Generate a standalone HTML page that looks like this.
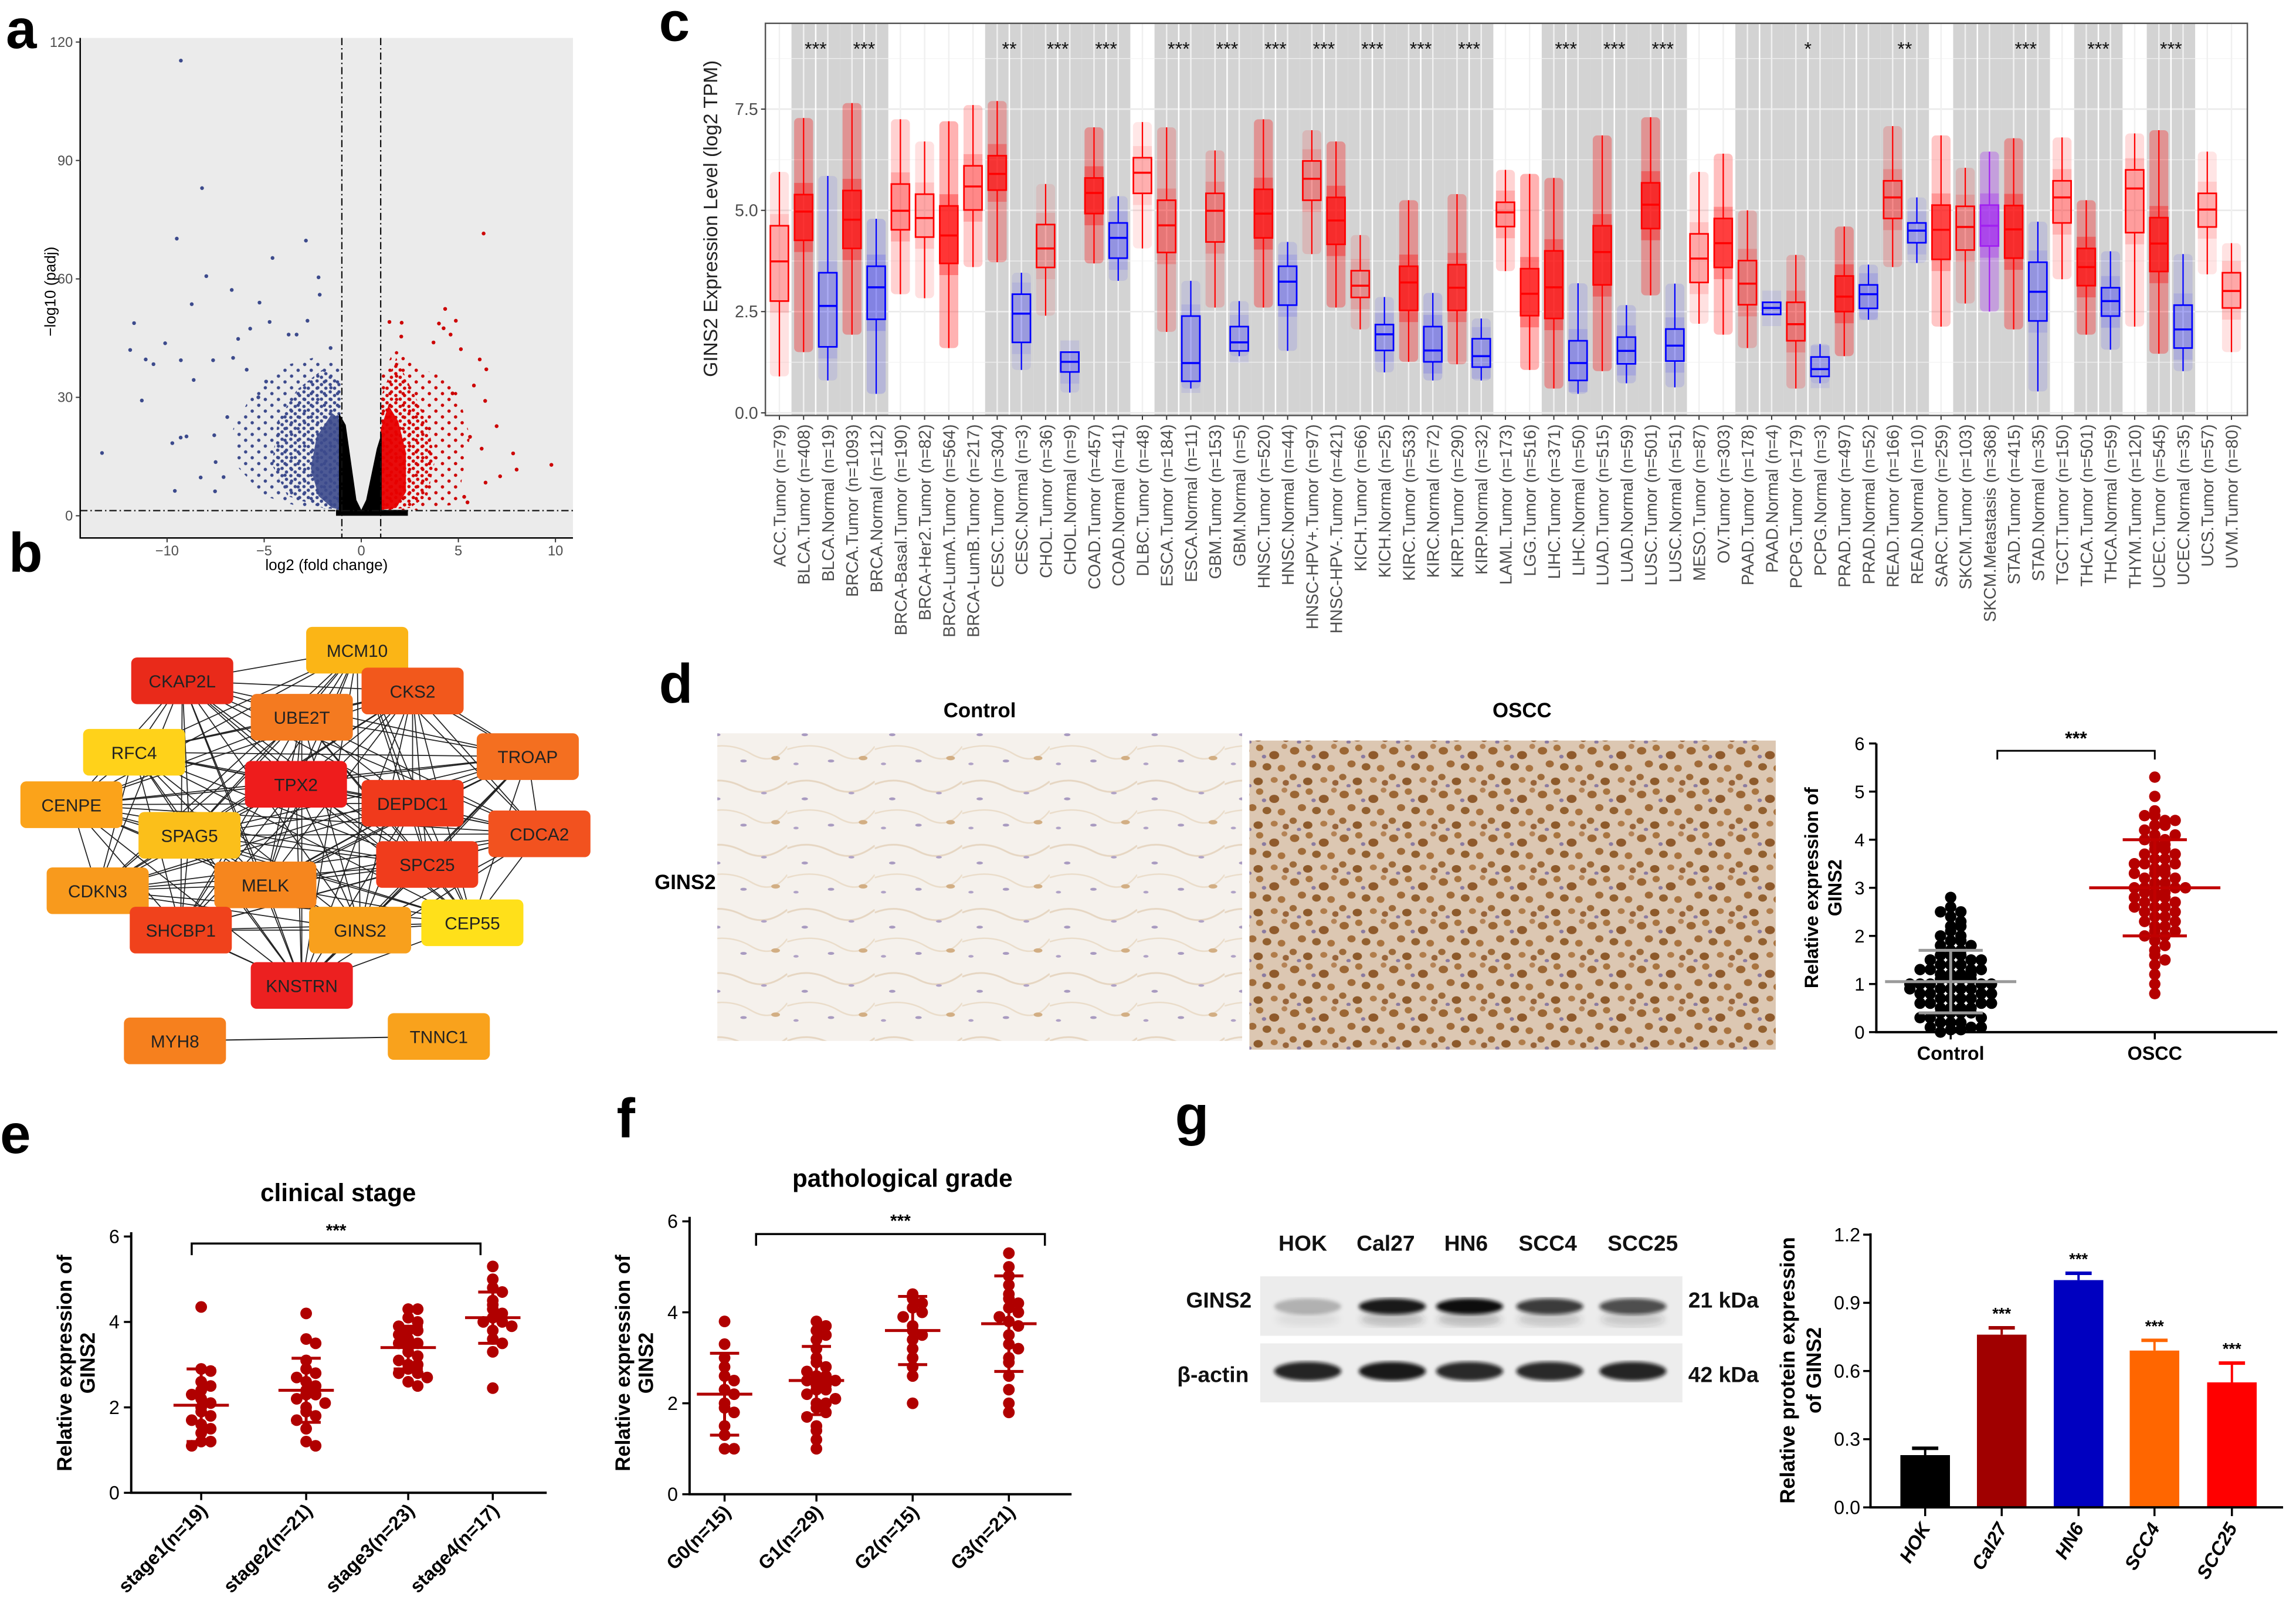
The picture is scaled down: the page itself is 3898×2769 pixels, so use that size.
<!DOCTYPE html>
<html><head><meta charset="utf-8">
<style>
html,body{margin:0;padding:0;background:#fff;}
svg{display:block;}
text{font-family:"Liberation Sans",Arial,sans-serif;}
</style></head>
<body>
<svg id="fig" xmlns="http://www.w3.org/2000/svg" width="3898" height="2769" viewBox="0 0 1568 1114" preserveAspectRatio="none">
<defs>
<pattern id="osccTex" width="34" height="30" patternUnits="userSpaceOnUse">
<rect width="34" height="30" fill="#dcc7b2"/>
<ellipse cx="4" cy="5" rx="3.2" ry="2.6" fill="#9b6634"/><ellipse cx="14" cy="3" rx="2.5" ry="2.2" fill="#a8743f"/>
<ellipse cx="24" cy="8" rx="3.4" ry="2.8" fill="#8f5a2c"/><ellipse cx="31" cy="2" rx="2" ry="1.8" fill="#b48357"/>
<ellipse cx="9" cy="14" rx="2.8" ry="2.4" fill="#a06b39"/><ellipse cx="19" cy="16" rx="3" ry="2.5" fill="#92602f"/>
<ellipse cx="29" cy="17" rx="2.6" ry="2.3" fill="#a9733f"/><ellipse cx="3" cy="23" rx="2.5" ry="2.2" fill="#9d6a39"/>
<ellipse cx="13" cy="26" rx="3.2" ry="2.6" fill="#8d5a2b"/><ellipse cx="24" cy="25" rx="2.4" ry="2" fill="#b07c4a"/>
<ellipse cx="32" cy="27" rx="2.2" ry="2" fill="#98643a"/><ellipse cx="17" cy="9" rx="1.5" ry="1.3" fill="#8a7aa0"/>
<ellipse cx="7" cy="29" rx="1.5" ry="1.2" fill="#8a7aa0"/>
</pattern>
<pattern id="ctrlTex" width="60" height="44" patternUnits="userSpaceOnUse">
<rect width="60" height="44" fill="#f5f1ec"/>
<path d="M0 10 Q15 4 30 12 T60 8" stroke="#e6d6c2" stroke-width="1.2" fill="none"/>
<path d="M0 30 Q20 24 35 33 T60 28" stroke="#eadcc9" stroke-width="1" fill="none"/>
<ellipse cx="12" cy="20" rx="2.2" ry="1" fill="#a89ac0"/><ellipse cx="44" cy="16" rx="2" ry="0.9" fill="#b0a2c6"/>
<ellipse cx="30" cy="38" rx="2.2" ry="1" fill="#a89ac0"/><ellipse cx="52" cy="36" rx="3" ry="1.5" fill="#d2ae83"/>
<ellipse cx="6" cy="40" rx="1.8" ry="0.9" fill="#b0a2c6"/>
</pattern>
<pattern id="blueDots" width="6" height="5" patternUnits="userSpaceOnUse">
<circle cx="1.5" cy="1.3" r="1.15" fill="#3c4a8c"/><circle cx="4.5" cy="3.8" r="1.15" fill="#3c4a8c"/>
</pattern>
<pattern id="blueDotsSparse" width="9" height="8" patternUnits="userSpaceOnUse">
<circle cx="2" cy="2" r="1.15" fill="#3c4a8c"/><circle cx="6.5" cy="6" r="1.15" fill="#3c4a8c"/>
</pattern>
<pattern id="redDots" width="6" height="5" patternUnits="userSpaceOnUse">
<circle cx="1.5" cy="1.3" r="1.15" fill="#d40000"/><circle cx="4.5" cy="3.8" r="1.15" fill="#d40000"/>
</pattern>
<pattern id="redDotsSparse" width="9" height="8" patternUnits="userSpaceOnUse">
<circle cx="2" cy="2" r="1.15" fill="#cc0000"/><circle cx="6.5" cy="6" r="1.15" fill="#cc0000"/>
</pattern>
<filter id="blur1"><feGaussianBlur stdDeviation="2.2"/></filter>
<filter id="blur2"><feGaussianBlur stdDeviation="1.3"/></filter>
</defs>
</svg>
<script>
// ---------------- DATA ----------------
const volcBlueX = [-9.29,-8.2,-9.5,-2.85,-4.57,-7.98,-2.2,-6.67,-2.14,-5.24,-8.73,-11.7,-4.72,-2.77,-5.72,-10.1,-11.9,-11.1,-10.7,-9.29,-7.63,-8.63,-11.3,-13.35,-9.73,-9.3,-9.0,-7.57,-7.5,-8.27,-7.09,-9.6,-7.53,-1.58,-3.74,-3.33,-6.34,-6.6,-5.9,-4.9,-6.9,-5.3];
const volcBlueY = [115.3,83,70.2,69.7,65.3,60.7,60.4,57.2,56,54,53.6,48.8,49.1,49.4,47.4,43.7,42,39.6,38.4,39.4,39.4,34.4,29.2,15.9,18.4,19.8,20.1,20.4,13.6,9.7,9.8,6.3,6.2,42.5,45.9,45.9,44.8,40,37,34,25,30];
const volcRedX = [6.3,4.32,4.87,1.45,2.08,4.0,4.24,4.6,2.06,3.72,5.13,6.1,6.44,7.82,9.79,8.0,6.38,6.97,7.15,6.4,5.3,5.47,5.8,6.2,5.6,4.7];
const volcRedY = [71.5,52.4,49.4,49.1,48.9,48.7,47.5,45.9,45.4,43.9,42.2,39.6,37.1,15.8,12.9,11.7,29.1,22.7,10,8.4,4.8,3.4,33,17,20,31];
const volcXTicks = [-10,-5,0,5,10];
const volcYTicks = [0,30,60,90,120];

const cLabels = ["ACC.Tumor (n=79)","BLCA.Tumor (n=408)","BLCA.Normal (n=19)","BRCA.Tumor (n=1093)","BRCA.Normal (n=112)","BRCA-Basal.Tumor (n=190)","BRCA-Her2.Tumor (n=82)","BRCA-LumA.Tumor (n=564)","BRCA-LumB.Tumor (n=217)","CESC.Tumor (n=304)","CESC.Normal (n=3)","CHOL.Tumor (n=36)","CHOL.Normal (n=9)","COAD.Tumor (n=457)","COAD.Normal (n=41)","DLBC.Tumor (n=48)","ESCA.Tumor (n=184)","ESCA.Normal (n=11)","GBM.Tumor (n=153)","GBM.Normal (n=5)","HNSC.Tumor (n=520)","HNSC.Normal (n=44)","HNSC-HPV+.Tumor (n=97)","HNSC-HPV-.Tumor (n=421)","KICH.Tumor (n=66)","KICH.Normal (n=25)","KIRC.Tumor (n=533)","KIRC.Normal (n=72)","KIRP.Tumor (n=290)","KIRP.Normal (n=32)","LAML.Tumor (n=173)","LGG.Tumor (n=516)","LIHC.Tumor (n=371)","LIHC.Normal (n=50)","LUAD.Tumor (n=515)","LUAD.Normal (n=59)","LUSC.Tumor (n=501)","LUSC.Normal (n=51)","MESO.Tumor (n=87)","OV.Tumor (n=303)","PAAD.Tumor (n=178)","PAAD.Normal (n=4)","PCPG.Tumor (n=179)","PCPG.Normal (n=3)","PRAD.Tumor (n=497)","PRAD.Normal (n=52)","READ.Tumor (n=166)","READ.Normal (n=10)","SARC.Tumor (n=259)","SKCM.Tumor (n=103)","SKCM.Metastasis (n=368)","STAD.Tumor (n=415)","STAD.Normal (n=35)","TGCT.Tumor (n=150)","THCA.Tumor (n=501)","THCA.Normal (n=59)","THYM.Tumor (n=120)","UCEC.Tumor (n=545)","UCEC.Normal (n=35)","UCS.Tumor (n=57)","UVM.Tumor (n=80)"];
const cGroup = ["T","T","N","T","N","T","T","T","T","T","N","T","N","T","N","T","T","N","T","N","T","N","T","T","T","N","T","N","T","N","T","T","T","N","T","N","T","N","T","T","T","N","T","N","T","N","T","N","T","T","M","T","N","T","T","N","T","T","N","T","T"];
const cQ1 = [2.76,4.26,1.63,4.06,2.31,4.52,4.34,3.69,5.01,5.5,1.74,3.59,1.01,4.92,3.82,5.42,3.96,0.78,4.22,1.53,4.32,2.66,5.25,4.16,2.85,1.54,2.53,1.26,2.53,1.13,4.6,2.4,2.33,0.8,3.16,1.21,4.55,1.28,3.22,3.59,2.67,2.43,1.78,0.9,2.5,2.58,4.8,4.2,3.79,4.02,4.12,3.82,2.27,4.69,3.14,2.39,4.45,3.49,1.6,4.59,2.59];
const cMed = [3.74,4.97,2.64,4.77,3.1,4.99,4.81,4.38,5.59,5.9,2.45,4.06,1.26,5.43,4.32,5.93,4.63,1.23,4.99,1.74,4.92,3.24,5.78,4.75,3.14,1.94,3.22,1.54,3.09,1.4,4.95,2.94,3.1,1.23,3.97,1.53,5.14,1.66,3.81,4.19,3.19,2.59,2.19,1.08,2.87,2.93,5.32,4.5,4.52,4.59,4.62,4.53,2.99,5.32,3.6,2.76,5.54,4.18,2.06,5.02,3.01];
const cQ3 = [4.62,5.39,3.46,5.49,3.62,5.65,5.4,5.11,6.1,6.35,2.93,4.65,1.5,5.8,4.69,6.3,5.25,2.39,5.42,2.13,5.52,3.62,6.22,5.32,3.51,2.18,3.62,2.13,3.66,1.83,5.2,3.56,4.0,1.78,4.62,1.87,5.68,2.07,4.42,4.8,3.76,2.73,2.73,1.38,3.38,3.16,5.73,4.69,5.13,5.1,5.13,5.12,3.72,5.73,4.06,3.09,6.0,4.82,2.66,5.42,3.46];
const cLo = [0.9,1.5,0.8,1.93,0.47,2.93,2.83,1.6,3.6,3.72,1.06,2.4,0.5,3.69,3.26,4.06,2.0,0.6,2.6,1.4,2.6,1.53,3.92,2.6,2.06,1.0,1.26,0.8,1.2,0.8,3.5,1.06,0.6,0.47,1.03,0.73,2.9,0.63,2.2,1.93,1.6,2.43,0.6,0.73,1.4,2.3,3.6,3.7,2.13,2.7,2.5,2.06,0.53,3.3,1.93,1.56,2.13,1.46,1.03,3.42,1.5];
const cHi = [5.95,7.28,5.85,7.65,4.79,7.25,6.7,7.2,7.6,7.7,3.46,5.65,1.5,7.05,5.35,7.18,7.05,3.26,6.48,2.76,7.25,4.22,6.98,6.7,4.39,2.86,5.25,2.96,5.4,2.33,6.0,5.9,5.8,3.2,6.85,2.66,7.3,3.19,5.95,6.4,5.0,2.73,3.9,1.7,4.6,3.66,7.08,5.32,6.85,6.05,6.45,6.78,4.72,6.8,5.25,3.99,6.9,6.98,3.92,6.45,4.19];
const cSig = [null,"***",null,"***",null,null,null,null,null,"**",null,"***",null,"***",null,null,"***",null,"***",null,"***",null,"***",null,"***",null,"***",null,"***",null,null,null,"***",null,"***",null,"***",null,null,null,null,null,"*",null,null,null,"**",null,null,null,null,"***",null,null,"***",null,null,"***",null,null,null];
const cShadePairs = [[1,2],[3,4],[9,10],[11,12],[13,14],[16,17],[18,19],[20,21],[22,23],[24,25],[26,27],[28,29],[32,33],[34,35],[36,37],[40,41],[42,43],[44,45],[46,47],[49,50],[51,52],[54,55],[57,58]];
const cYTicks = [0,2.5,5,7.5];

const dGroups = ["Control","OSCC"];
const dControl = [2.8,2.6,2.5,2.5,2.4,2.3,2.2,2.2,2.1,2.0,2.0,1.9,1.9,1.8,1.8,1.7,1.7,1.6,1.6,1.6,1.5,1.5,1.5,1.4,1.4,1.4,1.3,1.3,1.3,1.3,1.2,1.2,1.2,1.2,1.1,1.1,1.1,1.1,1.0,1.0,1.0,1.0,0.9,0.9,0.9,0.9,0.8,0.8,0.8,0.8,0.7,0.7,0.7,0.7,0.6,0.6,0.6,0.6,0.5,0.5,0.5,0.5,0.4,0.4,0.4,0.4,0.3,0.3,0.3,0.2,0.2,0.2,0.1,0.1,0.1,0.05,0.05,0.0,1.0,0.9];
const dOSCC = [5.3,4.9,4.6,4.5,4.4,4.3,4.3,4.2,4.1,4.0,4.0,3.9,3.9,3.8,3.8,3.7,3.6,3.6,3.5,3.5,3.4,3.4,3.3,3.3,3.2,3.2,3.1,3.1,3.0,3.0,3.0,2.9,2.9,2.9,2.8,2.8,2.7,2.7,2.6,2.6,2.5,2.5,2.4,2.4,2.3,2.3,2.2,2.2,2.1,2.0,2.0,1.9,1.8,1.7,1.6,1.5,1.4,1.2,1.0,0.8,3.5,3.7,4.1,2.6,3.0,2.8,3.3,4.5,4.4,2.1];
const dMean = [1.05,3.0];
const dSD = [0.65,1.0];
const dYTicks = [0,1,2,3,4,5,6];

const eLabels = ["stage1(n=19)","stage2(n=21)","stage3(n=23)","stage4(n=17)"];
const eStage1 = [4.35,2.9,2.85,2.6,2.5,2.4,2.2,2.1,2.0,1.9,1.8,1.7,1.6,1.5,1.4,1.2,1.2,1.1,2.3];
const eStage2 = [4.2,3.6,3.5,3.1,2.9,2.8,2.7,2.6,2.5,2.4,2.3,2.3,2.2,2.1,2.0,1.9,1.8,1.7,1.5,1.2,1.1];
const eStage3 = [4.3,4.3,4.1,4.0,3.9,3.8,3.8,3.7,3.6,3.5,3.5,3.4,3.3,3.2,3.1,3.0,3.0,2.9,2.8,2.8,2.7,2.6,2.5];
const eStage4 = [5.3,5.0,4.8,4.7,4.5,4.4,4.3,4.2,4.1,4.0,4.0,3.9,3.8,3.6,3.5,3.3,2.45];
const eMean = [2.05,2.4,3.4,4.1];
const eSD = [0.85,0.75,0.5,0.6];
const eYTicks = [0,2,4,6];

const fLabels = ["G0(n=15)","G1(n=29)","G2(n=15)","G3(n=21)"];
const fG0 = [3.8,3.3,3.0,2.8,2.6,2.5,2.3,2.2,2.0,1.9,1.8,1.5,1.3,1.0,1.0];
const fG1 = [3.8,3.7,3.6,3.5,3.4,3.2,3.0,2.9,2.8,2.7,2.6,2.6,2.5,2.5,2.4,2.4,2.3,2.3,2.2,2.1,2.0,2.0,1.9,1.8,1.7,1.5,1.4,1.2,1.0];
const fG2 = [4.4,4.3,4.2,4.1,4.0,3.9,3.7,3.6,3.5,3.4,3.2,3.0,2.8,2.6,2.0];
const fG3 = [5.3,5.0,4.8,4.6,4.4,4.3,4.2,4.1,4.0,3.9,3.8,3.7,3.5,3.3,3.2,3.0,2.9,2.6,2.3,2.0,1.8];
const fMean = [2.2,2.5,3.6,3.75];
const fSD = [0.9,0.75,0.75,1.05];
const fYTicks = [0,2,4,6];

const gLines = ["HOK","Cal27","HN6","SCC4","SCC25"];
const gValues = [0.23,0.76,1.0,0.69,0.55];
const gErr = [0.03,0.03,0.03,0.045,0.085];
const gSig = [null,"***","***","***","***"];
const gYTicks = [0.0,0.3,0.6,0.9,1.2];
const gColors = ["#000000","#a00000","#0000c0","#ff6600","#ff0000"];
const gBandGINS2 = [0.25,0.95,1.0,0.8,0.72];
const gBandActin = [0.9,0.95,0.88,0.88,0.9];

const bNodes = ["MCM10","CKAP2L","UBE2T","CKS2","TROAP","RFC4","TPX2","DEPDC1","CENPE","CDCA2","SPAG5","SPC25","MELK","CDKN3","CEP55","SHCBP1","GINS2","KNSTRN","MYH8","TNNC1"];
const bColors = ["#fbb516","#e92a1a","#f47a20","#f2581c","#f46f20","#ffd21a","#ee1c1c","#f03a1c","#fba31a","#f2521f","#fbbf1a","#f03c1c","#f6861e","#f89a1d","#ffe01a","#f0421c","#f8a01d","#ec2020","#f6801e","#f9a21c"];

// ---------------- HELPERS ----------------
const svg = document.getElementById('fig');
const NS = 'http://www.w3.org/2000/svg';
function mk(tag, attrs, parent){
  const e = document.createElementNS(NS, tag);
  for (const k in attrs) e.setAttribute(k, attrs[k]);
  (parent || svg).appendChild(e);
  return e;
}
function txt(str, attrs, parent){
  const e = mk('text', attrs, parent);
  e.textContent = str;
  return e;
}
function grp(parent){ return mk('g', {}, parent); }

// ---------------- PANEL A ----------------
(function(){
  const g = grp();
  
  
  const X = v => 247.8 + v*13.32;
  const Y = v => 353.8 - v*2.708;
  const bg = mk('rect', {x:55, y:26, width:338, height:343, fill:'#ebebeb'}, g);
  
  
  function poly(pts, fill, op, name){
    const p = mk('polygon', {points: pts.map(q => X(q[0]) + ',' + Y(q[1])).join(' '), fill: fill, 'fill-opacity': op}, g);
    
    
  }
  poly([[-1,1.5],[-1,38],[-2.5,40],[-4,38],[-5.5,32],[-6.6,22],[-6.3,12],[-5,5],[-3,2]], 'url(#blueDotsSparse)', 1, 'down-regulated-cloud-outer');
  poly([[-1,1.5],[-1,34],[-2,37],[-3.3,32],[-4.3,24],[-4.6,13],[-3.8,5],[-2,2]], 'url(#blueDots)', 1, 'down-regulated-cloud-mid');
  poly([[-1,1.5],[-1,24],[-1.5,26],[-2.3,20],[-2.6,12],[-2.2,5],[-1.5,2]], '#3c4a8c', 0.9, 'down-regulated-cloud-core');
  poly([[1,1.5],[1,35],[1.8,43],[3,37],[4,36],[5,31],[5.6,20],[5.2,10],[5,3],[3,1.5]], 'url(#redDotsSparse)', 1, 'up-regulated-cloud-outer');
  poly([[1,1.5],[1,30],[1.8,40],[2.6,32],[3.4,24],[3.8,14],[3.4,5],[2.5,2]], 'url(#redDots)', 1, 'up-regulated-cloud-mid');
  poly([[1,1.5],[1,22],[1.4,28],[1.9,24],[2.3,16],[2.3,6],[1.8,2]], '#e80000', 0.95, 'up-regulated-cloud-core');
  poly([[-1.15,26],[-0.8,23],[-0.25,4],[0,1.5],[0.25,4],[0.8,17],[1.05,21],[1.05,1.5],[2.4,1.5],[2.4,0],[-1.3,0],[-1.3,1.5],[-1.15,1.5]], '#000', 1, 'non-significant-cloud');
  volcBlueX.forEach((v,i) => {
    const c = mk('circle', {cx:X(v), cy:Y(volcBlueY[i]), r:1.3, fill:'#3c4a8c'}, g);
    
    
  });
  volcRedX.forEach((v,i) => {
    const c = mk('circle', {cx:X(v), cy:Y(volcRedY[i]), r:1.3, fill:'#cc0000'}, g);
    
    
  });
  [-1,1].forEach(v => {
    const l = mk('line', {x1:X(v), x2:X(v), y1:26, y2:369, stroke:'#111', 'stroke-width':0.9, 'stroke-dasharray':'5 2 1 2'}, g);
    
    
  });
  const hl = mk('line', {x1:55, x2:393, y1:Y(1.3), y2:Y(1.3), stroke:'#111', 'stroke-width':0.9, 'stroke-dasharray':'5 2 1 2'}, g);
  
  
  const ax = mk('path', {d:'M55 26 V369 H393', stroke:'#000', 'stroke-width':1, fill:'none'}, g);
  
  
  volcYTicks.forEach(v => {
    mk('line', {x1:52, x2:55, y1:Y(v), y2:Y(v), stroke:'#333', 'stroke-width':0.8}, g);
    const t = txt(String(v), {x:50, y:Y(v)+3.3, 'font-size':9.5, fill:'#4d4d4d', 'text-anchor':'end'}, g);
    
    
  });
  volcXTicks.forEach(v => {
    mk('line', {x1:X(v), x2:X(v), y1:369, y2:372, stroke:'#333', 'stroke-width':0.8}, g);
    const t = txt(v < 0 ? '\u2212' + Math.abs(v) : String(v), {x:X(v), y:381, 'font-size':9.5, fill:'#4d4d4d', 'text-anchor':'middle'}, g);
    
    
  });
  const xt = txt('log2 (fold change)', {x:224, y:391, 'font-size':10.5, 'text-anchor':'middle', fill:'#000'}, g);
  
  
  const yt = txt('\u2212log10 (padj)', {x:0, y:0, 'font-size':10.5, 'text-anchor':'middle', fill:'#000', transform:'translate(38,200) rotate(-90)'}, g);
  
  
})();

// ---------------- PANEL B ----------------
(function(){
  const g = grp();
  
  
  const pos = {MCM10:[245,446],CKAP2L:[125,467],UBE2T:[207,492],CKS2:[283,474],TROAP:[362,519],RFC4:[92,516],TPX2:[203,538],DEPDC1:[283,551],CENPE:[49,552],CDCA2:[370,572],SPAG5:[130,573],SPC25:[293,593],MELK:[182,607],CDKN3:[67,611],CEP55:[324,633],SHCBP1:[124,638],GINS2:[247,638],KNSTRN:[207,676],MYH8:[120,714],TNNC1:[301,711]};
  const eg = grp(g);
  
  
  const core = bNodes.slice(0,18);
  for (let i=0;i<core.length;i++) for (let j=i+1;j<core.length;j++){
    const a = pos[core[i]], b = pos[core[j]];
    mk('line', {x1:a[0], y1:a[1], x2:b[0], y2:b[1], stroke:'#222', 'stroke-width':0.7}, eg);
  }
  const e2 = mk('line', {x1:pos.MYH8[0], y1:pos.MYH8[1], x2:pos.TNNC1[0], y2:pos.TNNC1[1], stroke:'#222', 'stroke-width':0.8}, eg);
  
  
  bNodes.forEach((n,i) => {
    const p = pos[n];
    const ng = grp(g);
    
    
    mk('rect', {x:p[0]-35, y:p[1]-16, width:70, height:32, rx:4, fill:bColors[i]}, ng);
    txt(n, {x:p[0], y:p[1]+4.5, 'font-size':12, 'text-anchor':'middle', fill:'#222'}, ng);
  });
})();

// ---------------- PANEL C ----------------
(function(){
  const g = grp();
  
  
  const L = 525, R = 1541.5, T = 16, B = 285;
  const X = i => 534.6 + i*16.6;
  const Y = v => 283.2 - v*27.78;
  mk('rect', {x:L, y:T, width:R-L, height:B-T, fill:'#fff'}, g);
  cShadePairs.forEach(p => {
    const r = mk('rect', {x:X(p[0])-8.3, y:T, width:16.6*2, height:B-T, fill:'#d3d3d3'}, g);
    
    
  });
  [1.25,3.75,6.25,8.75].forEach(v => mk('line', {x1:L, x2:R, y1:Y(v), y2:Y(v), stroke:'#f2f2f2', 'stroke-width':0.6, 'stroke-opacity':0.8}, g));
  cYTicks.forEach(v => mk('line', {x1:L, x2:R, y1:Y(v), y2:Y(v), stroke:'#ebebeb', 'stroke-width':1.1}, g));
  cLabels.forEach((s,i) => mk('line', {x1:X(i), x2:X(i), y1:T, y2:B, stroke:'#f0f0f0', 'stroke-width':1}, g));
  cShadePairs.forEach(p => mk('line', {x1:X(p[0])+8.3, x2:X(p[0])+8.3, y1:T, y2:B, stroke:'#fff', 'stroke-width':1}, g));
  cLabels.forEach((s,i) => {
    const col = cGroup[i]==='T' ? '#ff0000' : (cGroup[i]==='N' ? '#0000ff' : '#a020f0');
    const n = parseInt(s.match(/n=(\d+)/)[1]);
    const bg = grp(g);
    
    
    const op = Math.min(0.55, 0.12 + n/900);
    mk('rect', {x:X(i)-6.5, y:Y(cHi[i]), width:13, height:Y(cLo[i])-Y(cHi[i]), fill:col, 'fill-opacity':op*0.55, rx:3}, bg);
    mk('rect', {x:X(i)-6.5, y:Y(cQ3[i])-8, width:13, height:Y(cQ1[i])-Y(cQ3[i])+16, fill:col, 'fill-opacity':op*0.6}, bg);
    mk('line', {x1:X(i), x2:X(i), y1:Y(cHi[i]), y2:Y(cQ3[i]), stroke:col, 'stroke-width':0.9}, bg);
    mk('line', {x1:X(i), x2:X(i), y1:Y(cQ1[i]), y2:Y(cLo[i]), stroke:col, 'stroke-width':0.9}, bg);
    mk('rect', {x:X(i)-6.2, y:Y(cQ3[i]), width:12.4, height:Y(cQ1[i])-Y(cQ3[i]), fill:col, 'fill-opacity':n>250?0.55:0.15, stroke:col, 'stroke-width':1.1}, bg);
    mk('line', {x1:X(i)-6.2, x2:X(i)+6.2, y1:Y(cMed[i]), y2:Y(cMed[i]), stroke:col, 'stroke-width':1.4}, bg);
    if (cSig[i]) {
      const t = txt(cSig[i], {x:X(i)+8.3, y:38, 'font-size':13, 'text-anchor':'middle', fill:'#111'}, g);
      
      
    }
    mk('line', {x1:X(i), x2:X(i), y1:B, y2:B+3, stroke:'#333', 'stroke-width':0.8}, g);
    const lt = txt(s, {x:0, y:0, 'font-size':11.6, 'text-anchor':'end', fill:'#4d4d4d', transform:'translate(' + (X(i)+4.2) + ',' + (B+6) + ') rotate(-90)'}, g);
    
    
  });
  const fr = mk('rect', {x:L, y:T, width:R-L, height:B-T, fill:'none', stroke:'#555', 'stroke-width':1}, g);
  
  
  cYTicks.forEach(v => {
    mk('line', {x1:L-3, x2:L, y1:Y(v), y2:Y(v), stroke:'#333', 'stroke-width':0.8}, g);
    const t = txt(v.toFixed(1), {x:L-5, y:Y(v)+4, 'font-size':11.5, 'text-anchor':'end', fill:'#4d4d4d'}, g);
    
    
  });
  const yt = txt('GINS2 Expression Level (log2 TPM)', {x:0, y:0, 'font-size':13.5, 'text-anchor':'middle', fill:'#222', transform:'translate(492,150) rotate(-90)'}, g);
  
  
})();

// ---------------- PANEL D ----------------
(function(){
  const g = grp();
  
  
  const c = mk('rect', {x:492, y:503, width:360, height:211, fill:'url(#ctrlTex)'}, g);
  
  
  const o = mk('rect', {x:857, y:508, width:361, height:212, fill:'url(#osccTex)'}, g);
  
  
  const t1 = txt('Control', {x:672, y:492, 'font-size':14, 'font-weight':'bold', 'text-anchor':'middle'}, g);
  
  
  const t2 = txt('OSCC', {x:1044, y:492, 'font-size':14, 'font-weight':'bold', 'text-anchor':'middle'}, g);
  
  
  const t3 = txt('GINS2', {x:470, y:610, 'font-size':14, 'font-weight':'bold', 'text-anchor':'middle'}, g);
  
  
})();

// panel letters (drawn after images so they're on top)
const letters = [["a",4,33],["b",6,392],["c",452,28],["d",452,482],["e",0,791],["f",423,780],["g",806,778]];
letters.forEach(l => {
  const t = txt(l[0], {x:l[1], y:l[2], 'font-size':38, 'font-weight':'bold', fill:'#000'});
  
  
});

function swarm(g, vals, cx, Y, spacing, binU, r, col){
  const counts = {};
  vals.forEach(v => {
    const b = Math.round(v/binU);
    const k = counts[b] || 0;
    counts[b] = k+1;
    const off = k===0 ? 0 : (k%2 ? 1 : -1) * Math.ceil(k/2) * spacing;
    const c = mk('circle', {cx:cx+off, cy:Y(v), r:r, fill:col}, g);
    
    
  });
}
function meanSD(g, cx, m, sd, Y, w, cw, col){
  mk('line', {x1:cx-w, x2:cx+w, y1:Y(m), y2:Y(m), stroke:col, 'stroke-width':2}, g);
  mk('line', {x1:cx, x2:cx, y1:Y(m+sd), y2:Y(m-sd), stroke:col, 'stroke-width':2}, g);
  mk('line', {x1:cx-cw, x2:cx+cw, y1:Y(m+sd), y2:Y(m+sd), stroke:col, 'stroke-width':2}, g);
  mk('line', {x1:cx-cw, x2:cx+cw, y1:Y(m-sd), y2:Y(m-sd), stroke:col, 'stroke-width':2}, g);
}

(function(){
  const g = grp();
  
  
  const Y = v => 708 - v*33;
  const cxs = [1338, 1478];
  swarm(g, dControl, cxs[0], Y, 7, 0.17, 3.9, '#000');
  swarm(g, dOSCC, cxs[1], Y, 7, 0.17, 3.9, '#b50000');
  meanSD(g, cxs[0], dMean[0], dSD[0], Y, 45, 22, '#9a9a9a');
  meanSD(g, cxs[1], dMean[1], dSD[1], Y, 45, 22, '#c00000');
  mk('path', {d:'M1287 510 V708 H1562', stroke:'#000', 'stroke-width':1.6, fill:'none'}, g);
  dYTicks.forEach(v => {
    mk('line', {x1:1282, x2:1287, y1:Y(v), y2:Y(v), stroke:'#000', 'stroke-width':1.4}, g);
    const t = txt(String(v), {x:1279, y:Y(v)+4.5, 'font-size':12.5, 'text-anchor':'end'}, g);
    
    
  });
  dGroups.forEach((s,i) => {
    mk('line', {x1:cxs[i], x2:cxs[i], y1:708, y2:713, stroke:'#000', 'stroke-width':1.4}, g);
    const t = txt(s, {x:cxs[i], y:727, 'font-size':13, 'font-weight':'bold', 'text-anchor':'middle'}, g);
    
    
  });
  mk('path', {d:'M1370 521 V515 H1478 V521', stroke:'#000', 'stroke-width':1.2, fill:'none'}, g);
  const s = txt('***', {x:1424, y:511, 'font-size':13, 'font-weight':'bold', 'text-anchor':'middle'}, g);
  
  
  const yt = txt('Relative expression of', {x:0, y:0, 'font-size':13, 'font-weight':'bold', 'text-anchor':'middle', transform:'translate(1247,609) rotate(-90)'}, g);
  
  
  const yt2 = txt('GINS2', {x:0, y:0, 'font-size':13, 'font-weight':'bold', 'text-anchor':'middle', transform:'translate(1263,609) rotate(-90)'}, g);
  
  
})();

// ---------------- PANEL E / F ----------------
function groupPanel(cfg){
  const g = grp();
  
  
  const Y = v => cfg.y0 - v*cfg.unit;
  cfg.sets.forEach((vals,i) => {
    swarm(g, vals, cfg.cx[i], Y, 6.5, 0.2, 4, '#b00000');
    meanSD(g, cfg.cx[i], cfg.mean[i], cfg.sd[i], Y, 19, 10, '#b00000');
  });
  mk('path', {d:'M' + cfg.ax + ' ' + Y(6.1) + ' V' + cfg.y0 + ' H' + cfg.axR, stroke:'#000', 'stroke-width':1.6, fill:'none'}, g);
  cfg.ticks.forEach(v => {
    mk('line', {x1:cfg.ax-5, x2:cfg.ax, y1:Y(v), y2:Y(v), stroke:'#000', 'stroke-width':1.4}, g);
    const t = txt(String(v), {x:cfg.ax-8, y:Y(v)+4.5, 'font-size':13, 'text-anchor':'end'}, g);
    
    
  });
  cfg.labels.forEach((s,i) => {
    mk('line', {x1:cfg.cx[i], x2:cfg.cx[i], y1:cfg.y0, y2:cfg.y0+5, stroke:'#000', 'stroke-width':1.4}, g);
    const t = txt(s, {x:0, y:0, 'font-size':13, 'font-weight':'bold', 'text-anchor':'end', transform:'translate(' + (cfg.cx[i]+5) + ',' + (cfg.y0+13) + ') rotate(-45)'}, g);
    
    
  });
  mk('path', {d:'M' + cfg.br[0] + ' ' + (cfg.br[2]+8) + ' V' + cfg.br[2] + ' H' + cfg.br[1] + ' V' + (cfg.br[2]+8), stroke:'#000', 'stroke-width':1.4, fill:'none'}, g);
  const s = txt('***', {x:(cfg.br[0]+cfg.br[1])/2, y:cfg.br[2]-5, 'font-size':12, 'font-weight':'bold', 'text-anchor':'middle'}, g);
  
  
  const tt = txt(cfg.title, {x:cfg.titleX, y:cfg.titleY, 'font-size':17, 'font-weight':'bold', 'text-anchor':'middle'}, g);
  
  
  const y1 = txt('Relative expression of', {x:0, y:0, 'font-size':14, 'font-weight':'bold', 'text-anchor':'middle', transform:'translate(' + cfg.ylx + ',' + cfg.yly + ') rotate(-90)'}, g);
  
  
  const y2 = txt('GINS2', {x:0, y:0, 'font-size':14, 'font-weight':'bold', 'text-anchor':'middle', transform:'translate(' + (cfg.ylx+16) + ',' + cfg.yly + ') rotate(-90)'}, g);
  
  
}
groupPanel({name:'clinical-stage-plot', sets:[eStage1,eStage2,eStage3,eStage4], mean:eMean, sd:eSD, labels:eLabels, ticks:eYTicks,
  y0:1024, unit:29.3, ax:90, axR:375, cx:[138,210,280,338], br:[131.5,329.6,853], title:'clinical stage', titleX:232, titleY:824, ylx:49, yly:935});
groupPanel({name:'pathological-grade-plot', sets:[fG0,fG1,fG2,fG3], mean:fMean, sd:fSD, labels:fLabels, ticks:fYTicks,
  y0:1025, unit:31.2, ax:473, axR:735, cx:[497,560,626,692], br:[518.6,716.7,846.5], title:'pathological grade', titleX:619, titleY:814, ylx:432, yly:935});

// ---------------- PANEL G ----------------
(function(){
  const g = grp();
  
  
  const lx = [893.6, 950.5, 1005.6, 1061.6, 1126.8];
  const bandX = [897, 955, 1008, 1063, 1120];
  mk('rect', {x:864.4, y:875.5, width:289.6, height:40.8, fill:'#ececec'}, g);
  mk('rect', {x:864.4, y:921.5, width:289.6, height:40.5, fill:'#ededed'}, g);
  gLines.forEach((s,i) => {
    const t = txt(s, {x:lx[i], y:858, 'font-size':15, 'font-weight':'bold', 'text-anchor':'middle', fill:'#111'}, g);
    
    
    const b1 = mk('ellipse', {cx:bandX[i], cy:896.2, rx:23, ry:5.5, fill:'#111', 'fill-opacity':gBandGINS2[i], filter:'url(#blur2)'}, g);
    
    
    mk('ellipse', {cx:bandX[i], cy:905, rx:22, ry:5, fill:'#333', 'fill-opacity':gBandGINS2[i]*0.25, filter:'url(#blur1)'}, g);
    const b2 = mk('ellipse', {cx:bandX[i], cy:940.6, rx:23, ry:6.5, fill:'#0a0a0a', 'fill-opacity':gBandActin[i], filter:'url(#blur2)'}, g);
    
    
  });
  [['GINS2',836,897,'middle'],['\u03b2-actin',832,948,'middle'],['21 kDa',1158,897,'start'],['42 kDa',1158,948,'start']].forEach(a => {
    const t = txt(a[0], {x:a[1], y:a[2], 'font-size':15, 'font-weight':'bold', 'text-anchor':a[3], fill:'#111'}, g);
    
    
  });
})();
(function(){
  const g = grp();
  
  
  const Y = v => 1034 - v*155.9;
  const cx = [1320.5, 1373, 1425.7, 1477.8, 1530.9];
  gValues.forEach((v,i) => {
    const b = mk('rect', {x:cx[i]-17, y:Y(v), width:34, height:Y(0)-Y(v), fill:gColors[i]}, g);
    
    
    mk('line', {x1:cx[i], x2:cx[i], y1:Y(v), y2:Y(v+gErr[i]), stroke:gColors[i], 'stroke-width':1.6}, g);
    mk('line', {x1:cx[i]-9, x2:cx[i]+9, y1:Y(v+gErr[i]), y2:Y(v+gErr[i]), stroke:gColors[i], 'stroke-width':2.4}, g);
    if (gSig[i]) {
      const s = txt(gSig[i], {x:cx[i], y:Y(v+gErr[i])-6, 'font-size':11, 'font-weight':'bold', 'text-anchor':'middle'}, g);
      
      
    }
    mk('line', {x1:cx[i], x2:cx[i], y1:1034, y2:1040, stroke:'#000', 'stroke-width':1.4}, g);
    const t = txt(gLines[i], {x:0, y:0, 'font-size':13, 'font-weight':'bold', 'font-style':'italic', 'text-anchor':'end', transform:'translate(' + (cx[i]+4) + ',' + 1048 + ') rotate(-60)'}, g);
    
    
  });
  mk('path', {d:'M1283 846 V1034 H1566', stroke:'#000', 'stroke-width':1.6, fill:'none'}, g);
  gYTicks.forEach(v => {
    mk('line', {x1:1278, x2:1283, y1:Y(v), y2:Y(v), stroke:'#000', 'stroke-width':1.4}, g);
    const t = txt(v.toFixed(1), {x:1276, y:Y(v)+4.5, 'font-size':13, 'text-anchor':'end'}, g);
    
    
  });
  const y1 = txt('Relative protein expression', {x:0, y:0, 'font-size':14, 'font-weight':'bold', 'text-anchor':'middle', transform:'translate(1231,940) rotate(-90)'}, g);
  
  
  const y2 = txt('of GINS2', {x:0, y:0, 'font-size':14, 'font-weight':'bold', 'text-anchor':'middle', transform:'translate(1249,940) rotate(-90)'}, g);
  
  
})();
</script>
</body></html>
